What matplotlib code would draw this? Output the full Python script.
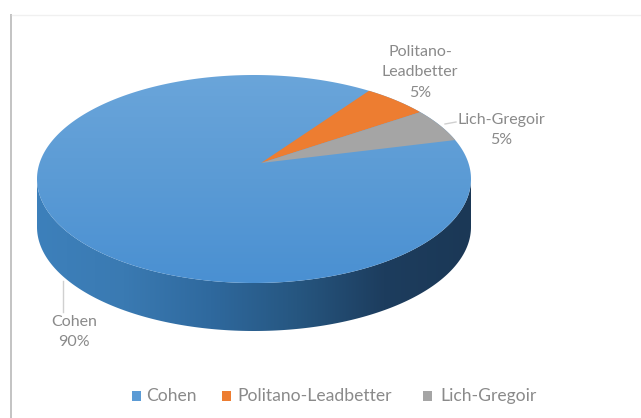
import numpy as np
import matplotlib

matplotlib.use("Agg")
import matplotlib.pyplot as plt
from matplotlib.colors import LinearSegmentedColormap
from matplotlib.patches import Polygon, Rectangle

labels = ["Cohen", "Politano-Leadbetter", "Lich-Gregoir"]
shares = [90, 5, 5]
colors = ["#5b9bd5", "#ed7d31", "#a5a5a5"]
pie_labels = ["Cohen\n90%", "Politano-\nLeadbetter\n5%", "Lich-Gregoir\n5%"]

text_grey = "#8a8a8a"
cx, cy, rx, ry = 254, 179, 217, 104
apex = (261, 163)
depth = 48
start_angle = 58  # Cohen ends here going clockwise


def rim(theta_deg):
    t = np.radians(theta_deg)
    return cx + rx * np.cos(t), cy - ry * np.sin(t)


fig = plt.figure(figsize=(6.41, 4.18), dpi=100)
ax = fig.add_axes([0, 0, 1, 1])
ax.set_xlim(0, 641)
ax.set_ylim(418, 0)
ax.axis("off")
plt.rcParams["font.family"] = ["Lato", "DejaVu Sans"]

# frame
ax.add_patch(Rectangle((9.5, 14), 2.5, 404, color="#c4c4c4", lw=0))
ax.plot([12, 641], [14.5, 14.5], color="#f0f0f0", lw=1)

# side wall
theta = np.linspace(180, 360, 200)
xs, ys = rim(theta)
wall = Polygon(
    np.vstack([np.column_stack([xs, ys]), np.column_stack([xs[::-1], ys[::-1] + depth])]),
    closed=True, fc="none", ec="none",
)
ax.add_patch(wall)
wall_cmap = LinearSegmentedColormap.from_list(
    "wall", ["#3d80bb", "#3a7ab2", "#2f699e", "#265680", "#1d3d5e", "#1b3856"]
)
img = ax.imshow(
    np.linspace(0, 1, 256).reshape(1, -1), cmap=wall_cmap, aspect="auto",
    extent=(cx - rx, cx + rx, cy + ry + depth, cy), zorder=2,
)
img.set_clip_path(wall)

# top: slices from the shares, clockwise from the start angle
edges = start_angle - np.cumsum([0] + shares[1:]) * 3.6
top_theta = np.linspace(0, 360, 400)
tx, ty = rim(top_theta)
top = Polygon(np.column_stack([tx, ty]), closed=True, fc="none", ec="none", zorder=3)
ax.add_patch(top)
top_cmap = LinearSegmentedColormap.from_list("top", ["#6aa5da", "#5b9bd5", "#4a90d2"])
top_img = ax.imshow(
    np.linspace(0, 1, 256).reshape(-1, 1), cmap=top_cmap, aspect="auto",
    extent=(cx - rx, cx + rx, cy + ry, cy - ry), zorder=3,
)
top_img.set_clip_path(top)
ax.set_xlim(0, 641)
ax.set_ylim(418, 0)

for i in (1, 2):
    arc = np.linspace(edges[i - 1], edges[i], 40)
    ax_x, ax_y = rim(arc)
    pts = np.vstack([[apex], np.column_stack([ax_x, ax_y])])
    ax.add_patch(Polygon(pts, closed=True, fc=colors[i], ec="none", zorder=4))

# leader lines
ax.plot([63, 63], [281, 312], color="#d0d0d0", lw=1, zorder=1)
ax.plot([445, 456], [124, 122], color="#d0d0d0", lw=1, zorder=1)

# data labels
ax.text(74, 332, pie_labels[0], ha="center", va="center", fontsize=11.5, color=text_grey, linespacing=1.6)
ax.text(420, 72.5, pie_labels[1], ha="center", va="center", fontsize=11.5, color=text_grey, linespacing=1.6)
ax.text(501, 130, pie_labels[2], ha="center", va="center", fontsize=11.5, color=text_grey, linespacing=1.6)

# legend
legend_marks = [132, 222, 423]
legend_text = [146, 237, 440]
for name, color, mx, lx in zip(labels, colors, legend_marks, legend_text):
    ax.add_patch(Rectangle((mx, 391), 9, 10, color=color, lw=0))
    ax.text(lx, 396, name, ha="left", va="center", fontsize=12.6, color=text_grey)

fig.savefig("out.png", dpi=100, facecolor="white")
